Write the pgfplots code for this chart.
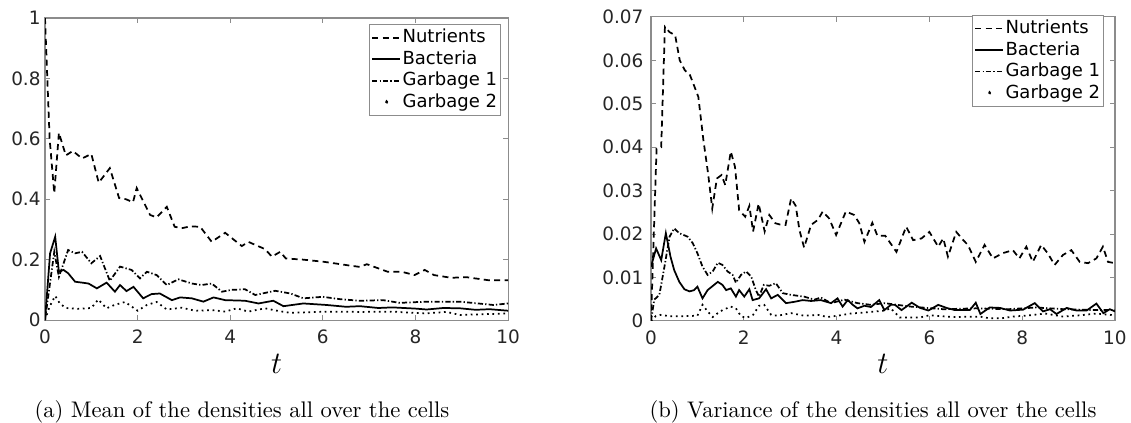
\documentclass[border=0pt]{standalone}
\usepackage{fontspec}
\usepackage{pgfplots}
\pgfplotsset{compat=1.18}
\newfontfamily\dejavu{DejaVu Sans}

\pgfplotsset{
  nut/.style={black, line width=0.8pt, dash pattern=on 2.8pt off 2pt},
  bac/.style={black, line width=0.8pt},
  gone/.style={black, line width=0.8pt, dash pattern=on 2.4pt off 1pt on 0.6pt off 1pt},
  gtwo/.style={black, line width=0.8pt, dash pattern=on 0.8pt off 1.7pt},
  panel/.style={
    scale only axis,
    xmin=0, xmax=10, ymin=0,
    xtick={0,2,4,6,8,10},
    tick align=inside,
    major tick length=2.2pt,
    axis line style={black!45, line width=0.5pt},
    every tick/.style={black!45, line width=0.5pt},
    ticklabel style={font=\dejavu\fontsize{8.5}{10}\selectfont, text=black!85},
    /pgf/number format/assume math mode=true,
    xticklabel style={anchor=base, yshift=-11pt},
    xlabel={$t$},
    xlabel style={at={(axis description cs:0.5,0)}, anchor=base, yshift=-24.4pt,
      font=\fontsize{14}{14}\selectfont},
    legend cell align=left,
    legend style={draw=black!45, line width=0.5pt,
      font=\dejavu\fontsize{8.3}{9}\selectfont,
      inner xsep=1pt, inner ysep=1.5pt, row sep=0.9pt,
      at={(1,1)}, anchor=north east,
      nodes={inner sep=0.6pt}},
    legend image code/.code={\draw[#1] (0pt,0pt) -- (13pt,0pt);},
  },
}

\begin{document}
\begin{tikzpicture}
\path[use as bounding box] (0,0) rectangle (521.2pt,-194.9pt);

% (a) mean
\begin{axis}[panel,
  at={(20.74pt,-147.5pt)}, anchor=south west,
  width=213.4pt, height=139.2pt,
  ymax=1, ytick={0,0.2,0.4,0.6,0.8,1},
  yticklabel style={xshift=1.5pt},
  legend style={xshift=-3.2pt, yshift=-2.8pt},
]
\addplot[nut] table {
t v
0 1.0
0.1 0.6
0.2 0.42
0.3 0.62
0.45 0.545
0.6 0.56
0.8 0.535
1.0 0.55
1.16 0.455
1.4 0.503
1.6 0.404
1.75 0.40
1.9 0.39
1.98 0.437
2.1 0.40
2.27 0.348
2.41 0.34
2.63 0.375
2.8 0.309
2.95 0.304
3.13 0.31
3.35 0.309
3.6 0.259
3.89 0.289
4.25 0.245
4.39 0.259
4.6 0.245
4.75 0.235
4.9 0.21
5.08 0.226
5.2 0.204
5.58 0.2
6.02 0.193
6.38 0.185
6.6 0.18
6.8 0.176
6.95 0.185
7.4 0.16
7.7 0.16
7.98 0.149
8.2 0.166
8.4 0.149
8.77 0.14
9.1 0.142
9.57 0.132
10 0.132
};
\addlegendentry{Nutrients}
\addplot[bac] table {
t v
0 0
0.11 0.221
0.22 0.276
0.3 0.16
0.4 0.166
0.5 0.155
0.65 0.127
0.8 0.124
0.94 0.121
1.12 0.105
1.33 0.124
1.51 0.094
1.62 0.116
1.76 0.096
1.91 0.11
2.12 0.072
2.3 0.086
2.48 0.088
2.74 0.066
2.92 0.075
3.17 0.072
3.42 0.061
3.64 0.075
3.89 0.066
4.32 0.064
4.61 0.055
4.93 0.064
5.15 0.046
5.58 0.055
6.08 0.05
6.5 0.044
6.8 0.046
7.2 0.04
7.5 0.042
8.0 0.038
8.24 0.035
8.6 0.04
8.96 0.039
9.3 0.034
9.6 0.036
10 0.031
};
\addlegendentry{Bacteria}
\addplot[gone] table {
t v
0 0
0.2 0.226
0.3 0.143
0.5 0.232
0.65 0.221
0.8 0.226
1.0 0.188
1.19 0.212
1.4 0.13
1.62 0.177
1.87 0.166
2.05 0.138
2.2 0.16
2.41 0.149
2.63 0.116
2.88 0.135
3.17 0.121
3.38 0.116
3.6 0.121
3.82 0.094
4.03 0.1
4.32 0.102
4.54 0.083
4.97 0.097
5.3 0.088
5.58 0.072
6.0 0.077
6.38 0.069
6.8 0.064
7.3 0.066
7.66 0.057
8.24 0.061
8.96 0.061
9.68 0.05
10 0.055
};
\addlegendentry{Garbage 1}
\addplot[gtwo, legend image code/.code={\fill (6.5pt,0pt) circle (0.55pt);}] table {
t v
0 0
0.1 0.045
0.22 0.08
0.32 0.055
0.45 0.04
0.7 0.037
1.0 0.04
1.15 0.068
1.33 0.039
1.5 0.05
1.73 0.06
2.0 0.031
2.2 0.05
2.41 0.06
2.63 0.035
2.95 0.041
3.24 0.031
3.6 0.033
3.89 0.028
4.14 0.039
4.39 0.028
4.75 0.039
5.04 0.03
5.3 0.024
6.1 0.028
6.8 0.027
7.5 0.028
8.2 0.022
8.67 0.027
8.96 0.017
10 0.022
};
\addlegendentry{Garbage 2}
\end{axis}

% (b) variance
\begin{axis}[panel,
  at={(300pt,-147.9pt)}, anchor=south west,
  width=213.8pt, height=140.1pt,
  ymax=0.07, ytick={0,0.01,0.02,0.03,0.04,0.05,0.06,0.07},
  scaled y ticks=false,
  yticklabel style={/pgf/number format/.cd, fixed, precision=2},
  legend style={xshift=-5pt, yshift=0.9pt},
]
\addplot[nut] table {
t v
0 0
0.12 0.0397
0.22 0.040
0.3 0.0677
0.4 0.0665
0.52 0.0658
0.62 0.060
0.73 0.0577
0.84 0.0566
0.91 0.0547
1.02 0.0516
1.13 0.0416
1.23 0.034
1.32 0.0259
1.42 0.0328
1.52 0.0336
1.6 0.0313
1.72 0.039
1.81 0.0355
1.9 0.0255
2.03 0.024
2.12 0.0265
2.2 0.0206
2.32 0.027
2.45 0.0206
2.55 0.0244
2.68 0.0225
2.78 0.0222
2.9 0.0221
3.02 0.0282
3.12 0.0265
3.2 0.0209
3.3 0.0169
3.45 0.0221
3.6 0.0233
3.7 0.0252
3.84 0.0236
3.99 0.0198
4.2 0.0252
4.38 0.0244
4.49 0.0225
4.6 0.0182
4.77 0.0226
4.88 0.0196
5.05 0.0196
5.29 0.0159
5.5 0.0217
5.65 0.0186
5.83 0.019
6.0 0.0205
6.19 0.0171
6.3 0.019
6.4 0.0148
6.58 0.0205
6.73 0.0186
6.83 0.0175
7.0 0.0136
7.19 0.0175
7.37 0.0144
7.58 0.0156
7.8 0.0163
7.94 0.0144
8.09 0.0171
8.23 0.0136
8.41 0.0175
8.55 0.0156
8.7 0.0129
8.88 0.0152
9.06 0.0163
9.24 0.0136
9.42 0.0133
9.6 0.0144
9.74 0.0171
9.85 0.0136
10 0.0133
};
\addlegendentry{Nutrients}
\addplot[bac] table {
t v
0 0.0125
0.11 0.0167
0.22 0.014
0.32 0.0202
0.42 0.0148
0.5 0.0117
0.61 0.009
0.72 0.0073
0.83 0.0068
0.93 0.0071
1.0 0.0079
1.11 0.0052
1.22 0.0071
1.44 0.009
1.54 0.0083
1.62 0.0071
1.72 0.0075
1.83 0.0056
1.9 0.0071
2.01 0.0056
2.12 0.0073
2.19 0.0048
2.33 0.0052
2.48 0.0073
2.59 0.0052
2.73 0.006
2.91 0.0041
3.09 0.0044
3.27 0.0048
3.45 0.0046
3.66 0.0048
3.88 0.0041
4.02 0.0052
4.13 0.0033
4.24 0.0048
4.35 0.0037
4.45 0.0029
4.6 0.0035
4.74 0.0032
4.92 0.0048
5.03 0.0025
5.17 0.0037
5.26 0.0037
5.4 0.0025
5.62 0.0042
5.8 0.003
5.98 0.0024
6.19 0.0037
6.37 0.003
6.55 0.0025
6.87 0.0025
7.0 0.0042
7.1 0.0016
7.3 0.0031
7.52 0.003
7.74 0.0024
8.02 0.0026
8.27 0.0041
8.45 0.0022
8.6 0.0027
8.74 0.0016
8.96 0.003
9.17 0.0024
9.39 0.0024
9.6 0.004
9.75 0.0018
9.89 0.0027
10 0.0022
};
\addlegendentry{Bacteria}
\addplot[gone] table {
t v
0 0
0.07 0.0049
0.18 0.006
0.29 0.0125
0.4 0.0194
0.5 0.0213
0.61 0.0202
0.79 0.0194
0.9 0.0179
1.0 0.0156
1.11 0.0125
1.22 0.0106
1.33 0.0114
1.44 0.0134
1.54 0.0129
1.65 0.0114
1.76 0.0106
1.83 0.0088
1.94 0.0106
2.05 0.0114
2.16 0.0102
2.26 0.0071
2.33 0.0056
2.43 0.0083
2.55 0.0081
2.69 0.0087
2.84 0.0064
3.02 0.006
3.3 0.0056
3.52 0.0049
3.66 0.0054
3.88 0.0041
4.17 0.0049
4.45 0.0041
4.74 0.0037
5.03 0.0041
5.6 0.0033
6.3 0.0027
7.0 0.0029
7.7 0.0027
8.3 0.0031
8.9 0.0027
9.6 0.0025
10 0.0025
};
\addlegendentry{Garbage 1}
\addplot[gtwo, legend image code/.code={\fill (6.5pt,0pt) circle (0.55pt);}] table {
t v
0 0
0.1 0.0011
0.2 0.0014
0.4 0.0011
0.7 0.0011
1.0 0.0012
1.11 0.0037
1.22 0.0022
1.33 0.0009
1.44 0.0018
1.54 0.0025
1.72 0.0033
1.83 0.0029
1.94 0.0011
2.05 0.0007
2.2 0.0014
2.33 0.0035
2.44 0.0037
2.59 0.0014
2.73 0.0012
3.02 0.0018
3.3 0.0012
3.6 0.0014
3.8 0.0009
4.02 0.0012
4.3 0.0017
4.67 0.002
5.03 0.0024
5.17 0.0029
5.36 0.0008
5.8 0.0008
6.0 0.0013
6.5 0.0009
7.09 0.0010
7.3 0.0006
7.55 0.0006
7.8 0.001
8.16 0.0013
8.5 0.0017
8.88 0.001
9.24 0.0013
9.6 0.0017
10 0.0013
};
\addlegendentry{Garbage 2}
\end{axis}

\node[anchor=base, font=\fontsize{10.4}{12}\selectfont] at (111.5pt,-192.2pt) {(a) Mean of the densities all over the cells};
\node[anchor=base, font=\fontsize{10.4}{12}\selectfont] at (402.3pt,-192.2pt) {(b) Variance of the densities all over the cells};
\end{tikzpicture}
\end{document}
